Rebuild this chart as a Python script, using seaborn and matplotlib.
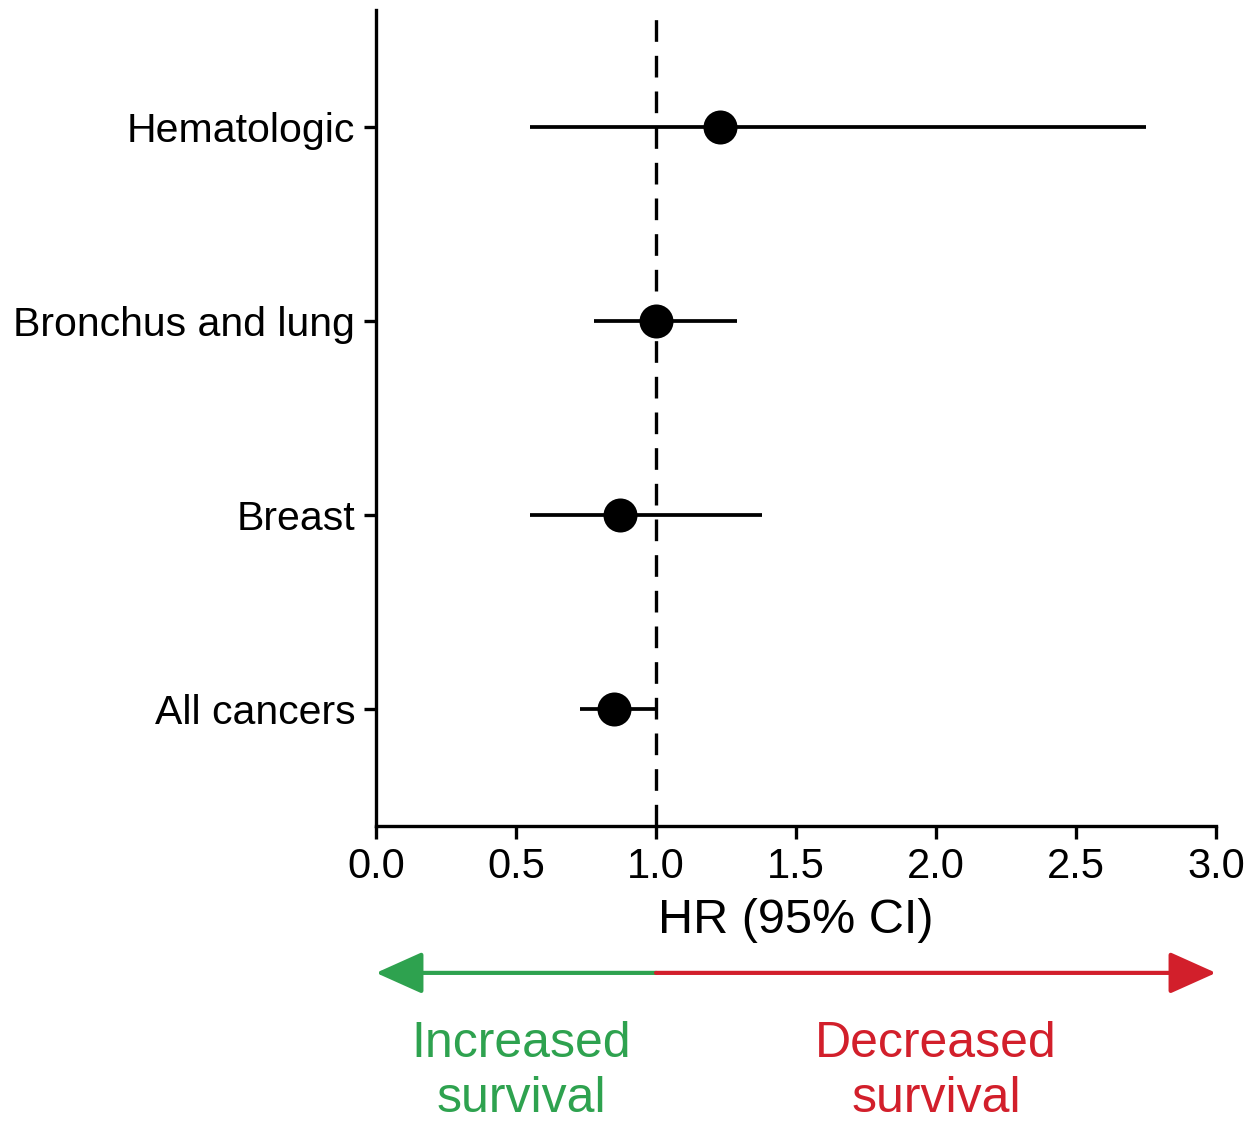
import pandas as pd
from matplotlib import pyplot as plt
import seaborn as sns

# hazard ratios (top to bottom in the picture)
cancer_types = ["Hematologic", "Bronchus and lung", "Breast", "All cancers"]
hr = [1.23, 1.00, 0.87, 0.85]
ci_low = [0.55, 0.78, 0.55, 0.73]
ci_high = [2.75, 1.29, 1.38, 1.00]
x_ticks = [0.0, 0.5, 1.0, 1.5, 2.0, 2.5, 3.0]

# reverse so Hematologic ends up on top of the category axis
df = pd.DataFrame({"type": cancer_types, "hr": hr, "lo": ci_low, "hi": ci_high}).iloc[::-1]

sns.set_style("ticks")
plt.rcParams['font.family'] = ['Liberation Sans', 'DejaVu Sans']
plt.rcParams['text.color'] = 'black'
plt.rcParams['axes.labelcolor'] = 'black'
plt.rcParams['axes.edgecolor'] = 'black'
plt.rcParams['xtick.color'] = 'black'
plt.rcParams['ytick.color'] = 'black'

fig = plt.figure(figsize=(12.55, 11.24), dpi=100)
ax = fig.add_axes([376 / 1255, 1 - 826 / 1124, 840 / 1255, 816 / 1124])

ax.hlines(df["type"], df["lo"], df["hi"], color="black", lw=2.7, zorder=2)
sns.scatterplot(data=df, x="hr", y="type", color="black", s=600, edgecolor="black",
                linewidth=0, ax=ax, zorder=3)
ax.axvline(1.0, color="black", lw=2.4, dashes=(6.5, 4.2), zorder=1)

ax.set_xlim(0, 3.0)
ax.set_ylim(-0.6, 3.6)
ax.set_xticks(x_ticks)
ax.set_xticklabels([f"{t:.1f}" for t in x_ticks])
ax.set_xlabel("HR (95% CI)", fontsize=35, labelpad=8)
ax.set_ylabel("")
sns.despine(ax=ax)
for s in ["left", "bottom"]:
    ax.spines[s].set_linewidth(2.4)
ax.tick_params(axis="x", labelsize=30, width=2.4, length=9, pad=6)
ax.tick_params(axis="y", labelsize=29.5, width=2.4, length=9, pad=6)

# survival direction arrows under the axis
tr = ax.get_xaxis_transform()
head = "-|>,head_length=1.45,head_width=0.65"
ax.annotate("", xy=(0, -0.18), xytext=(1.0, -0.18), xycoords=tr, textcoords=tr,
            arrowprops=dict(arrowstyle=head, color="#2ea24f", lw=3, mutation_scale=20,
                            shrinkA=0, shrinkB=0),
            annotation_clip=False)
ax.annotate("", xy=(3.0, -0.18), xytext=(1.0, -0.18), xycoords=tr, textcoords=tr,
            arrowprops=dict(arrowstyle=head, color="#d21f2b", lw=3, mutation_scale=20,
                            shrinkA=0, shrinkB=0),
            annotation_clip=False)

ax.text(0.52, -0.239, "Increased\nsurvival", transform=tr, ha="center", va="top",
        fontsize=36, color="#2ea24f", linespacing=1.25)
ax.text(2.0, -0.239, "Decreased\nsurvival", transform=tr, ha="center", va="top",
        fontsize=36, color="#d21f2b", linespacing=1.25)

fig.savefig("out.png", dpi=100)
